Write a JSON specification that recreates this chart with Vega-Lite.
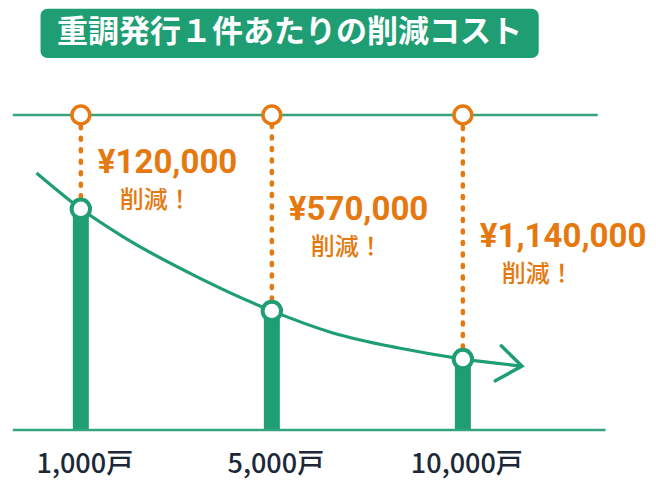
{
  "$schema": "https://vega.github.io/schema/vega-lite/v6.json",
  "width": 656,
  "height": 492,
  "padding": 0,
  "autosize": {"type": "none"},
  "background": "white",
  "config": {"view": {"stroke": null}},
  "datasets": {
    "units": [
      {"households": "1,000戸", "pos": 1, "cost": 70.2, "saving": "¥120,000", "labelAt": 84.8},
      {"households": "5,000戸", "pos": 2, "cost": 37.8, "saving": "¥570,000", "labelAt": 69.8},
      {"households": "10,000戸", "pos": 3, "cost": 22.5, "saving": "¥1,140,000", "labelAt": 61.3}
    ],
    "trend": [
      {"pos": 0.768, "cost": 81.6},
      {"pos": 1.0, "cost": 70.2},
      {"pos": 1.222, "cost": 61.3},
      {"pos": 1.619, "cost": 48.3},
      {"pos": 2.0, "cost": 37.8},
      {"pos": 2.32, "cost": 30.8},
      {"pos": 2.665, "cost": 26.0},
      {"pos": 3.0, "cost": 22.5},
      {"pos": 3.309, "cost": 20.3}
    ],
    "arrowhead": [
      {"step": 1, "pos": 3.201, "cost": 26.7},
      {"step": 2, "pos": 3.309, "cost": 20.3},
      {"step": 3, "pos": 3.17, "cost": 15.6}
    ],
    "heading": [{"title": "重調発行１件あたりの削減コスト"}]
  },
  "layer": [
    {
      "data": {"name": "units"},
      "mark": {"type": "bar", "color": "#1f9e74", "size": 16},
      "encoding": {
        "x": {"field": "pos", "type": "quantitative", "scale": {"domain": [0.603, 3.985], "nice": false, "zero": false}, "axis": null},
        "y": {"field": "cost", "type": "quantitative", "scale": {"domain": [-19.7, 136.5], "nice": false, "zero": false}, "axis": null}
      }
    },
    {
      "data": {"name": "heading"},
      "mark": {"type": "rect", "fill": "#1f9e74", "cornerRadius": 7},
      "encoding": {
        "x": {"datum": 0.789, "type": "quantitative"},
        "x2": {"datum": 3.397},
        "y": {"datum": 133.7, "type": "quantitative"},
        "y2": {"datum": 118.1}
      }
    },
    {
      "data": {"name": "heading"},
      "mark": {"type": "text", "color": "white", "font": "Noto Sans CJK JP", "fontWeight": "bold", "fontSize": 31, "align": "center", "baseline": "middle"},
      "encoding": {
        "x": {"datum": 2.093, "type": "quantitative"},
        "y": {"datum": 126.0, "type": "quantitative"},
        "text": {"field": "title", "type": "nominal"}
      }
    },
    {
      "data": {"name": "heading"},
      "mark": {"type": "rule", "color": "#34a47c", "strokeWidth": 2.5},
      "encoding": {
        "x": {"datum": 0.644, "type": "quantitative"},
        "x2": {"datum": 3.706},
        "y": {"datum": 100, "type": "quantitative"}
      }
    },
    {
      "data": {"name": "heading"},
      "mark": {"type": "rule", "color": "#34a47c", "strokeWidth": 2.5},
      "encoding": {
        "x": {"datum": 0.644, "type": "quantitative"},
        "x2": {"datum": 3.747},
        "y": {"datum": 0, "type": "quantitative"}
      }
    },
    {
      "data": {"name": "units"},
      "mark": {"type": "rule", "color": "#e5790f", "strokeWidth": 4.5, "strokeDash": [2, 9.5], "strokeCap": "round"},
      "encoding": {
        "x": {"field": "pos", "type": "quantitative"},
        "y": {"field": "cost", "type": "quantitative"},
        "y2": {"datum": 100}
      }
    },
    {
      "data": {"name": "trend"},
      "mark": {"type": "line", "color": "#1f9e74", "strokeWidth": 3.2, "interpolate": "monotone"},
      "encoding": {
        "x": {"field": "pos", "type": "quantitative"},
        "y": {"field": "cost", "type": "quantitative"}
      }
    },
    {
      "data": {"name": "arrowhead"},
      "mark": {"type": "line", "color": "#1f9e74", "strokeWidth": 3.5, "strokeCap": "round"},
      "encoding": {
        "x": {"field": "pos", "type": "quantitative"},
        "y": {"field": "cost", "type": "quantitative"},
        "order": {"field": "step", "type": "quantitative"}
      }
    },
    {
      "data": {"name": "units"},
      "mark": {"type": "point", "shape": "circle", "filled": true, "fill": "white", "stroke": "#1f9e74", "strokeWidth": 4, "size": 340, "opacity": 1},
      "encoding": {
        "x": {"field": "pos", "type": "quantitative"},
        "y": {"field": "cost", "type": "quantitative"}
      }
    },
    {
      "data": {"name": "units"},
      "mark": {"type": "point", "shape": "circle", "filled": true, "fill": "white", "stroke": "#e5790f", "strokeWidth": 3.5, "size": 320, "opacity": 1},
      "encoding": {
        "x": {"field": "pos", "type": "quantitative"},
        "y": {"datum": 100, "type": "quantitative"}
      }
    },
    {
      "data": {"name": "units"},
      "mark": {"type": "text", "color": "#e5790f", "font": "Roboto", "fontWeight": "bold", "fontSize": 33, "align": "left", "baseline": "middle", "dx": 17},
      "encoding": {
        "x": {"field": "pos", "type": "quantitative"},
        "y": {"field": "labelAt", "type": "quantitative"},
        "text": {"field": "saving", "type": "nominal"}
      }
    },
    {
      "data": {"name": "units"},
      "mark": {"type": "text", "color": "#e5790f", "font": "Noto Sans CJK JP", "fontWeight": 500, "fontSize": 24, "align": "left", "baseline": "middle", "dx": 39, "dy": 38, "text": "削減！"},
      "encoding": {
        "x": {"field": "pos", "type": "quantitative"},
        "y": {"field": "labelAt", "type": "quantitative"}
      }
    },
    {
      "data": {"name": "units"},
      "mark": {"type": "text", "color": "#1c2838", "font": "Noto Sans CJK JP", "fontWeight": 500, "fontSize": 27, "align": "center", "baseline": "middle", "dx": 4},
      "encoding": {
        "x": {"field": "pos", "type": "quantitative"},
        "y": {"datum": -11.1, "type": "quantitative"},
        "text": {"field": "households", "type": "nominal"}
      }
    }
  ]
}
